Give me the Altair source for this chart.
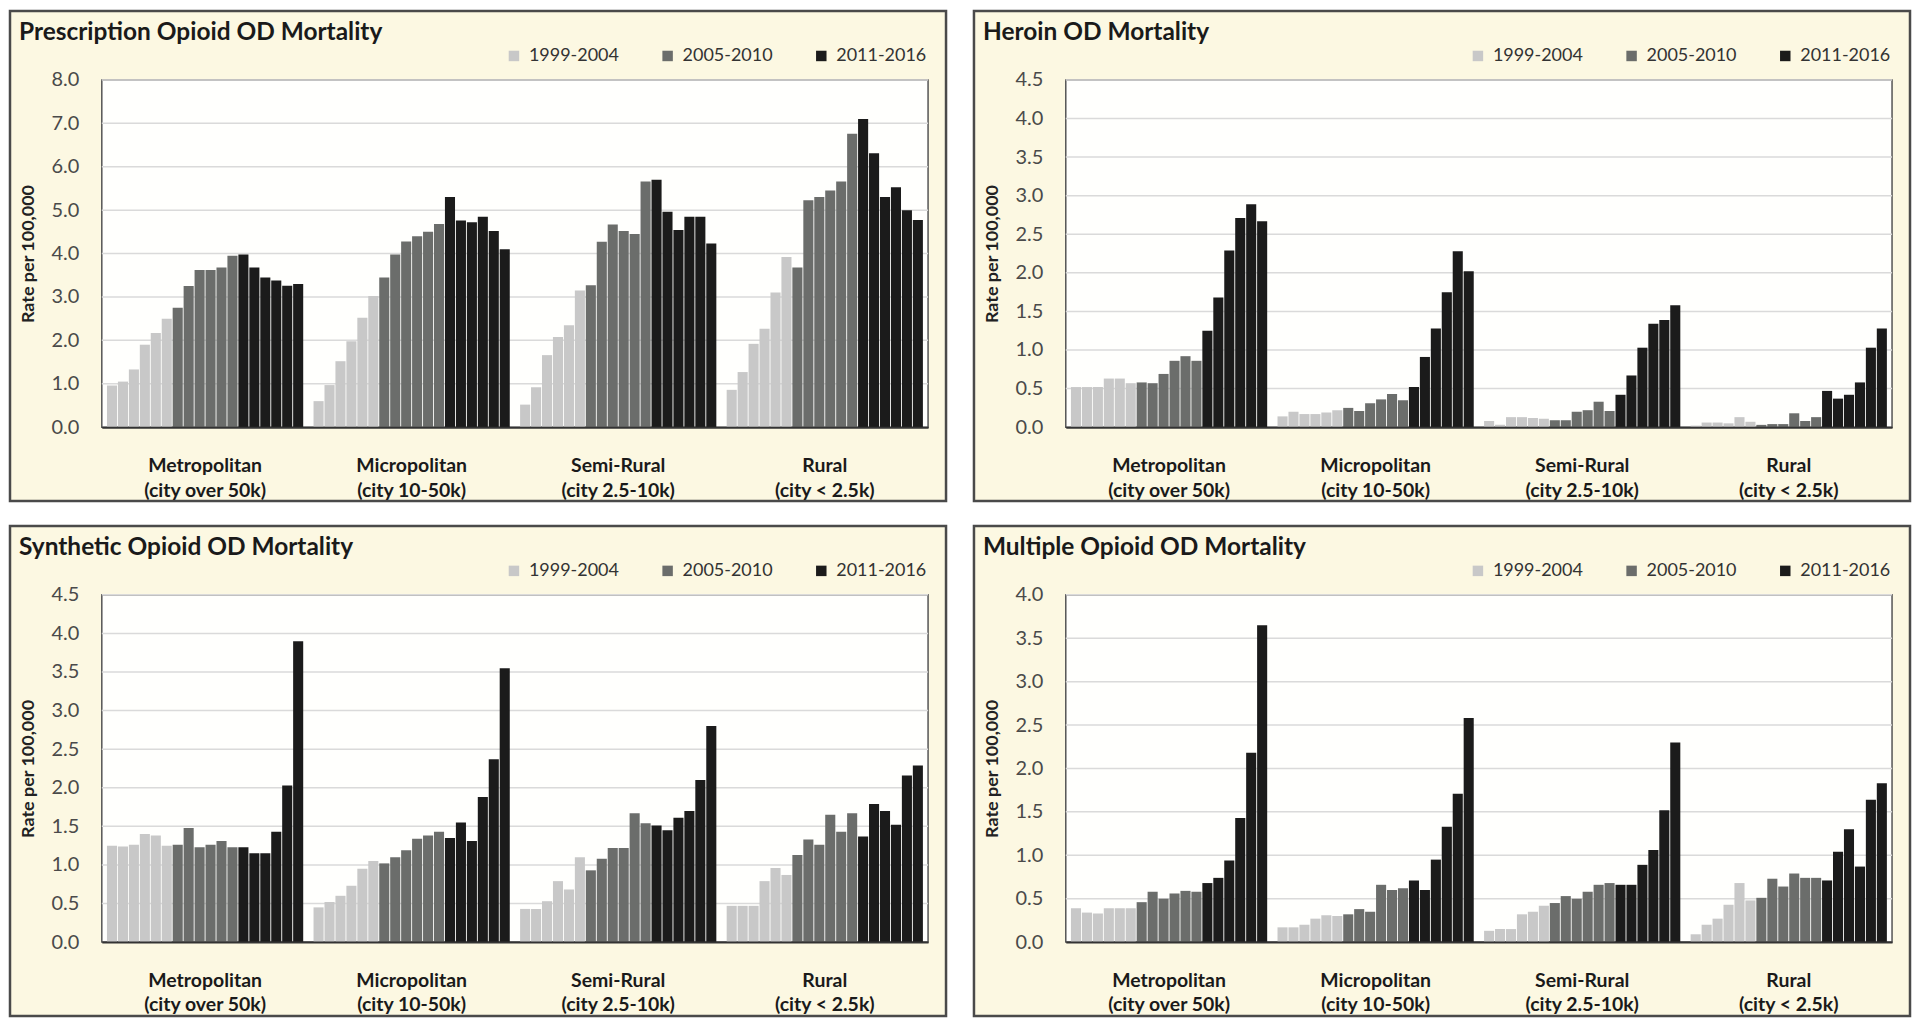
import altair as alt
import pandas as pd

# ---------------- data ----------------
regions = ["Metropolitan|(city over 50k)", "Micropolitan|(city 10-50k)",
           "Semi-Rural|(city 2.5-10k)", "Rural|(city < 2.5k)"]
periods = ["1999-2004", "2005-2010", "2011-2016"]
years = list(range(1999, 2017))

# each row: 18 yearly rates (1999..2016) for one region
prescription = [
    [0.96, 1.05, 1.33, 1.90, 2.17, 2.50, 2.75, 3.25, 3.62, 3.62, 3.68, 3.95, 3.98, 3.68, 3.45, 3.38, 3.26, 3.30],
    [0.60, 0.97, 1.52, 1.98, 2.52, 3.02, 3.45, 3.98, 4.28, 4.40, 4.50, 4.68, 5.30, 4.76, 4.72, 4.85, 4.52, 4.10],
    [0.52, 0.92, 1.66, 2.08, 2.35, 3.15, 3.27, 4.27, 4.67, 4.52, 4.45, 5.66, 5.70, 4.96, 4.54, 4.85, 4.85, 4.23],
    [0.86, 1.27, 1.92, 2.27, 3.10, 3.92, 3.68, 5.23, 5.30, 5.45, 5.66, 6.76, 7.10, 6.31, 5.30, 5.53, 5.00, 4.77],
]
heroin = [
    [0.52, 0.52, 0.52, 0.63, 0.63, 0.57, 0.58, 0.57, 0.69, 0.86, 0.92, 0.86, 1.25, 1.68, 2.29, 2.71, 2.89, 2.67],
    [0.14, 0.20, 0.17, 0.17, 0.19, 0.22, 0.25, 0.21, 0.31, 0.36, 0.43, 0.35, 0.52, 0.91, 1.28, 1.75, 2.28, 2.02],
    [0.08, 0.03, 0.13, 0.13, 0.12, 0.11, 0.09, 0.09, 0.20, 0.22, 0.33, 0.21, 0.42, 0.67, 1.03, 1.34, 1.39, 1.58],
    [0.02, 0.06, 0.06, 0.05, 0.13, 0.07, 0.03, 0.04, 0.04, 0.18, 0.08, 0.13, 0.47, 0.37, 0.42, 0.58, 1.03, 1.28],
]
synthetic = [
    [1.25, 1.24, 1.26, 1.40, 1.38, 1.25, 1.26, 1.48, 1.23, 1.26, 1.31, 1.23, 1.23, 1.15, 1.15, 1.43, 2.03, 3.90],
    [0.45, 0.52, 0.60, 0.73, 0.95, 1.05, 1.02, 1.10, 1.19, 1.34, 1.38, 1.43, 1.35, 1.55, 1.31, 1.88, 2.37, 3.55],
    [0.43, 0.43, 0.53, 0.79, 0.68, 1.10, 0.93, 1.08, 1.22, 1.22, 1.67, 1.54, 1.51, 1.45, 1.61, 1.70, 2.10, 2.80],
    [0.47, 0.47, 0.47, 0.79, 0.96, 0.87, 1.13, 1.33, 1.26, 1.65, 1.43, 1.67, 1.37, 1.79, 1.70, 1.52, 2.16, 2.29],
]
multiple = [
    [0.39, 0.34, 0.33, 0.39, 0.39, 0.39, 0.46, 0.58, 0.50, 0.56, 0.59, 0.58, 0.68, 0.74, 0.94, 1.43, 2.18, 3.65],
    [0.17, 0.17, 0.20, 0.27, 0.31, 0.30, 0.32, 0.38, 0.35, 0.66, 0.60, 0.62, 0.71, 0.60, 0.95, 1.33, 1.71, 2.58],
    [0.13, 0.15, 0.15, 0.32, 0.35, 0.42, 0.45, 0.53, 0.50, 0.58, 0.66, 0.68, 0.66, 0.66, 0.89, 1.06, 1.52, 2.30],
    [0.09, 0.20, 0.27, 0.43, 0.68, 0.48, 0.51, 0.73, 0.64, 0.79, 0.74, 0.74, 0.71, 1.04, 1.30, 0.87, 1.64, 1.83],
]

titles = ["Prescription Opioid OD Mortality", "Heroin OD Mortality",
          "Synthetic Opioid OD Mortality", "Multiple Opioid OD Mortality"]
y_max = [8.0, 4.5, 4.5, 4.0]
y_step = [1.0, 0.5, 0.5, 0.5]

# ---------------- style ----------------
FONT = "Lato"
CREAM = "#FCF8E2"
BORDER = "#4a4a4a"
COLORS = ["#C8C8C8", "#6B6D6B", "#1B1B1B"]
W, H = 828, 348
TOP, BOTTOM, LEFT, RIGHT = 69, 74, 92, 18


def panel(title, rows, ymax, step):
    recs = []
    for r, vals in zip(regions, rows):
        for i, v in enumerate(vals):
            recs.append({"region": r, "idx": i, "year": years[i],
                         "period": periods[i // 6], "v": v})
    df = pd.DataFrame(recs)
    n = int(round(ymax / step))
    ticks = [round(step * k, 2) for k in range(n + 1)]
    tickdf = pd.DataFrame({"v": ticks[1:]})
    one = pd.DataFrame({"a": [0]})

    yenc = alt.Y("v:Q", scale=alt.Scale(domain=[0, ymax], nice=False, zero=True),
                 axis=alt.Axis(values=ticks, format=".1f", grid=False, ticks=False,
                               domain=False, labelFont=FONT, labelFontSize=20,
                               labelColor="#4a4a4a", labelPadding=23,
                               title="Rate per 100,000", titleFont=FONT,
                               titleFontSize=18, titleFontWeight="bold",
                               titleColor="#222222", titlePadding=14, zindex=1))

    backdrop = alt.Chart(one).mark_rect(fill=CREAM, stroke=BORDER, strokeWidth=2.5).encode(
        x=alt.value(-LEFT), x2=alt.value(W + RIGHT), y=alt.value(-TOP), y2=alt.value(H + BOTTOM))
    plotbg = alt.Chart(one).mark_rect(fill="#FFFFFD", stroke="#555555", strokeWidth=1.5).encode(
        x=alt.value(0), x2=alt.value(W), y=alt.value(0), y2=alt.value(H))
    grid = alt.Chart(tickdf).mark_rule(color="#DADADA", strokeWidth=1.5).encode(
        y=yenc, x=alt.value(0), x2=alt.value(W))
    bars = alt.Chart(df).mark_bar().encode(
        x=alt.X("region:N", sort=regions,
                scale=alt.Scale(paddingInner=0.05, paddingOuter=0.025),
                axis=alt.Axis(title=None, labelExpr="split(datum.label, '|')",
                              labelAngle=0, ticks=False, domainColor="#333333",
                              domainWidth=2, labelFont=FONT, labelFontSize=19.5,
                              labelFontWeight="bold", labelColor="#1a1a1a",
                              labelPadding=29, labelLineHeight=25,
                              labelBaseline="top", zindex=1)),
        xOffset=alt.XOffset("idx:O", scale=alt.Scale(paddingInner=0.08, paddingOuter=0)),
        y=yenc,
        color=alt.Color("period:N", scale=alt.Scale(domain=periods, range=COLORS),
                        legend=alt.Legend(title=None, orient="none", legendX=404,
                                          legendY=-33, direction="horizontal",
                                          symbolType="square", symbolSize=110,
                                          symbolStrokeWidth=0, labelFont=FONT,
                                          labelFontSize=18, labelColor="#333333",
                                          labelOffset=6, columnPadding=39, zindex=1)),
        tooltip=["region:N", "year:O", "v:Q"],
    )
    ttl = alt.Chart(pd.DataFrame({"t": [title]})).mark_text(
        align="left", baseline="middle", font=FONT, fontSize=24.5, fontWeight="bold",
        color="#1a1a1a").encode(text="t:N", x=alt.value(-83), y=alt.value(-47))
    return alt.layer(backdrop, plotbg, grid, bars, ttl).properties(width=W, height=H)


panels = [panel(t, r, m, s) for t, r, m, s in
          zip(titles, [prescription, heroin, synthetic, multiple], y_max, y_step)]

row1 = alt.hconcat(panels[0], panels[1], spacing=24).resolve_scale(
    color="independent", y="independent", x="independent").resolve_legend(color="independent")
row2 = alt.hconcat(panels[2], panels[3], spacing=24).resolve_scale(
    color="independent", y="independent", x="independent").resolve_legend(color="independent")

chart = alt.vconcat(row1, row2, spacing=21).resolve_scale(
    color="independent", y="independent", x="independent").resolve_legend(
    color="independent").configure_view(stroke=None).properties(background="white", padding=0)

chart.save("out.html", embed_options={"renderer": "svg", "actions": False})
